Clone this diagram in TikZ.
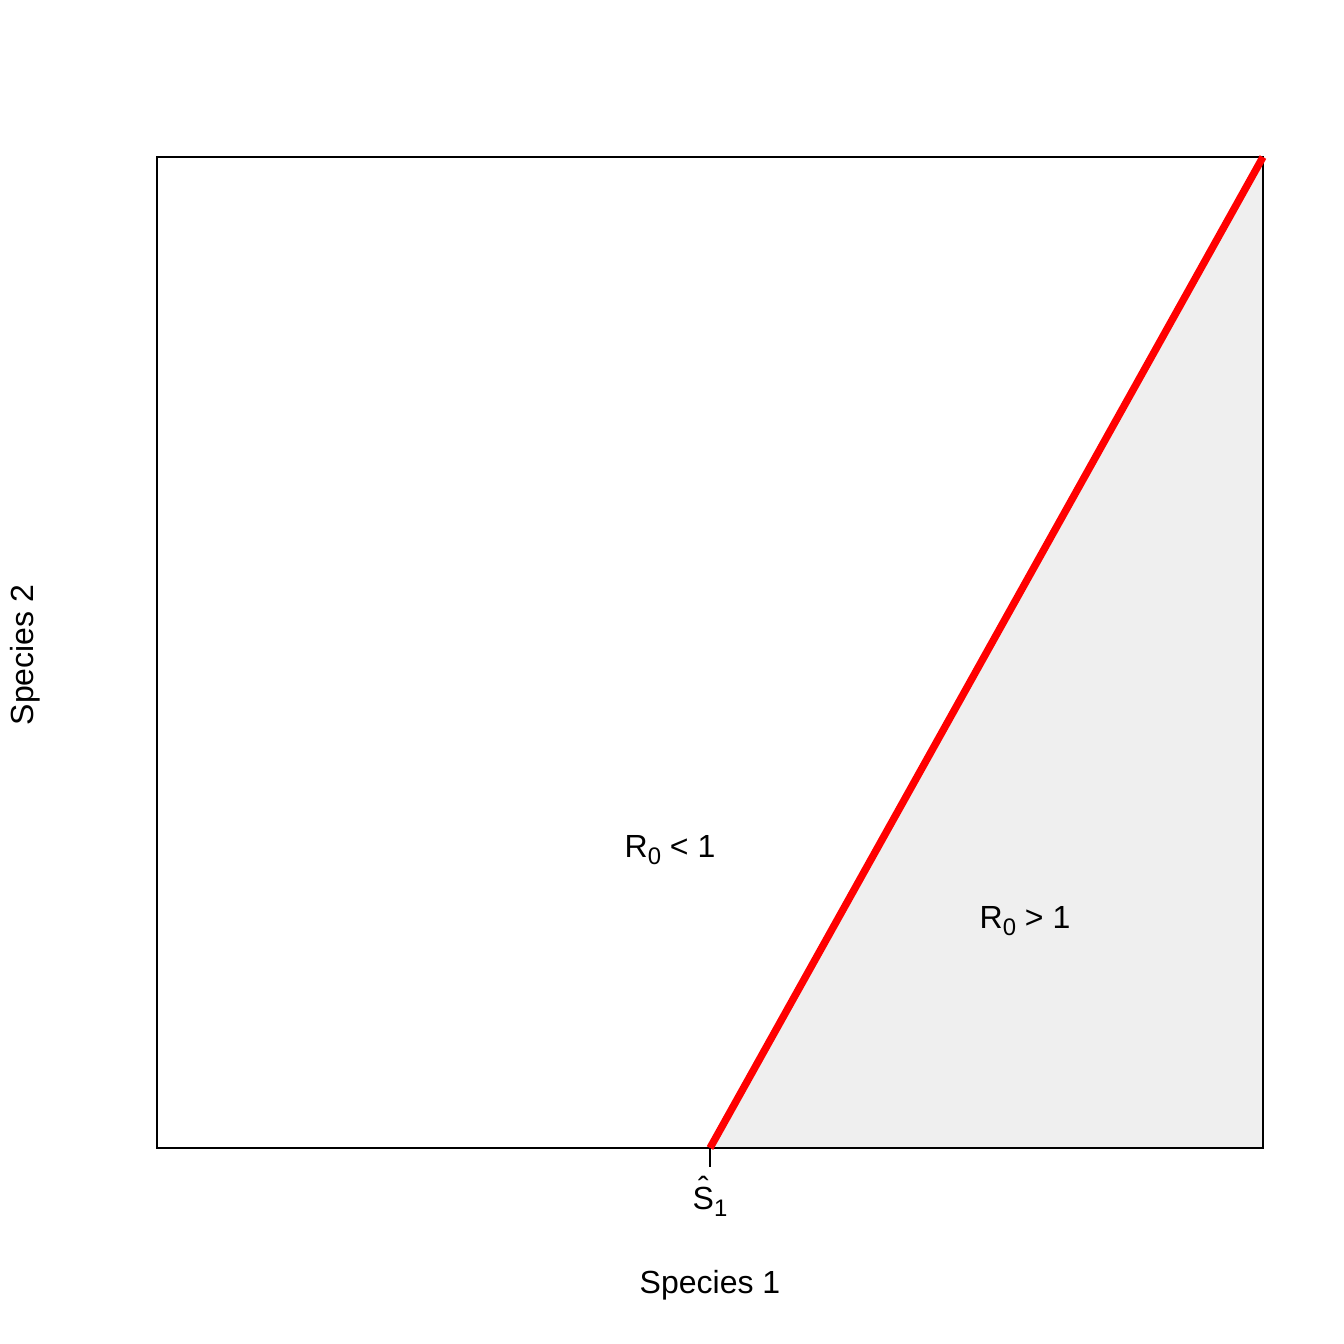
\documentclass[tikz,border=0pt]{standalone}
\usepackage{fontspec}
\setmainfont{Liberation Sans}
\usetikzlibrary{positioning}
\definecolor{regionfill}{HTML}{EFEFEF}
\newcommand{\sub}[1]{\raisebox{-0.45ex}{\fontsize{6.8}{7}\selectfont #1}}
\newcommand{\hatS}{\leavevmode\setbox0\hbox{S}\rlap{\hbox to\wd0{\hss\raisebox{0.32em}{ˆ}\hss}}\box0}
\begin{document}
\begin{tikzpicture}[x=0.01cm, y=-0.01cm, frame/.style={draw, line width=0.5pt}, boundary/.style={draw=red, line width=2.1pt}, lbl/.style={font=\fontsize{9.1}{10}\selectfont, inner sep=0pt}]
\useasboundingbox (0,0) rectangle (1344,1344);
\coordinate (ll) at (157,1148);
\coordinate (ur) at (1263,157);
\coordinate (s1) at (710,1148);
\coordinate (lr) at (1263,1148);
\fill[regionfill] (s1) -- (ur) -- (lr) -- cycle;
\draw[frame] (ll) rectangle (ur);
\draw[boundary] (s1) -- (ur);
\draw[line width=0.5pt] (s1) -- ++(0,19) coordinate (tick);
\node[lbl, anchor=north] (shat) at ([yshift=-0.08cm]tick) {\hatS\sub{1}};
\node[lbl] (lo) at (670,850) {R\sub{0} < 1};
\node[lbl] (hi) at (1025,921) {R\sub{0} > 1};
\node[lbl] (xlab) at (710,1285) {Species 1};
\node[lbl, rotate=90] (ylab) at (25,655) {Species 2};
\end{tikzpicture}
\end{document}
